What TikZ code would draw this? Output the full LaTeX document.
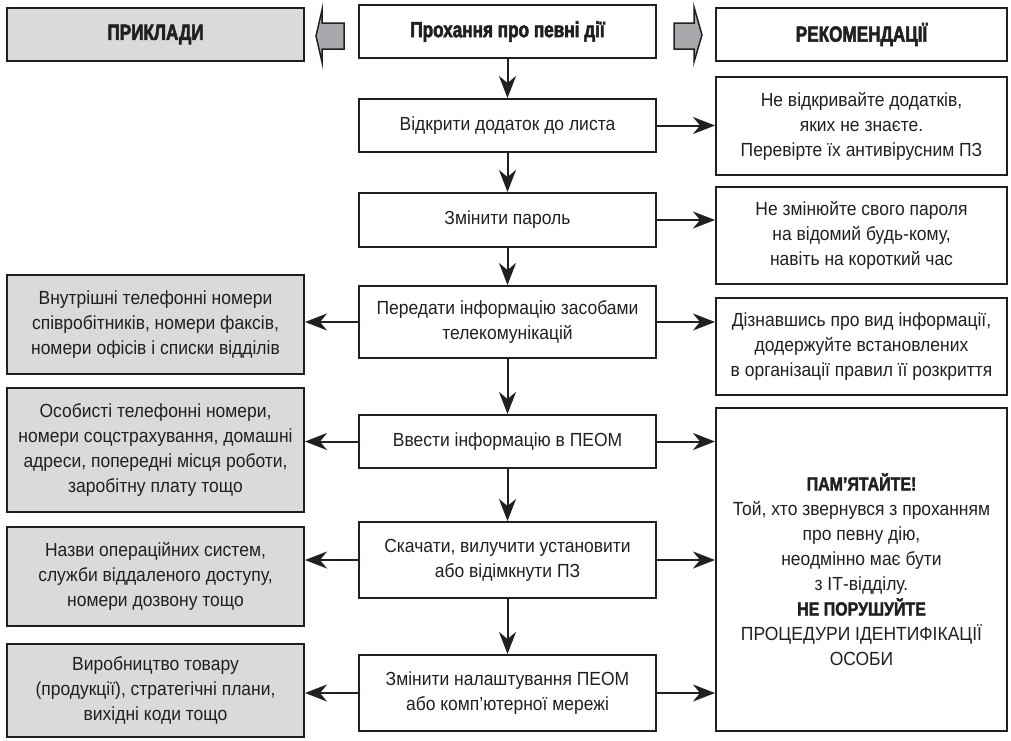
\documentclass[tikz,border=0pt]{standalone}
\usepackage{fontspec}
\setmainfont{Liberation Sans}[FakeStretch=0.92]
\newfontfamily\headfont{Liberation Sans}[FakeStretch=0.78,FakeBold=2.5]
\newfontfamily\notefont{Liberation Sans}[FakeStretch=0.84,FakeBold=2]
\usetikzlibrary{arrows.meta}
\definecolor{ink}{HTML}{231F20}
\definecolor{panel}{HTML}{D9DADB}
\definecolor{hollow}{HTML}{A7A9AC}
\tikzset{
  x=1pt, y=-1pt,
  box/.style={draw=ink, line width=2pt, align=center, inner sep=0pt,
    text=ink, font=\fontsize{19}{25}\selectfont},
  mid/.style={box, minimum width=297pt},
  side/.style={box, minimum width=297pt, fill=panel},
  adv/.style={box, minimum width=291pt},
  head/.style={font=\headfont\bfseries\fontsize{22}{24}\selectfont},
  arr/.style={draw=ink, line width=2pt, -{Stealth[length=22pt,width=17pt,inset=7pt]}},
  hollowarrow/.style={draw=ink, line width=1.5pt, fill=hollow, line join=miter}
}
\begin{document}
\begin{tikzpicture}
\useasboundingbox (0,0) rectangle (1011,740);

% header row
\node[side, head, minimum height=53pt] (hdL) at (155.5,34.5) {ПРИКЛАДИ};
\node[mid, head, minimum height=53pt] (hdC) at (507.5,31.5) {Прохання про певні дії};
\node[adv, head, minimum height=53pt] (hdR) at (861.5,34.5) {РЕКОМЕНДАЦІЇ};

% hollow direction arrows beside the central header
\draw[hollowarrow] (344,23) -- (322,23) -- (322,10) -- (316,36) -- (322,62)
  -- (322,49) -- (344,49) -- cycle;
\draw[hollowarrow] (674,23) -- (694,23) -- (694,7) -- (702,35) -- (694,62)
  -- (694,49) -- (674,49) -- cycle;

% central chain of requests
\node[mid, minimum height=53pt] (b1) at (507.5,125.5) {Відкрити додаток до листа};
\node[mid, minimum height=54pt] (b2) at (507.5,220) {Змінити пароль};
\node[mid, minimum height=72pt] (b3) at (507.5,322) {Передати інформацію засобами\\телекомунікацій};
\node[mid, minimum height=53pt] (b4) at (507.5,441.5) {Ввести інформацію в ПЕОМ};
\node[mid, minimum height=76pt] (b5) at (507.5,560) {Скачати, вилучити установити\\або відімкнути ПЗ};
\node[mid, minimum height=76pt] (b6) at (507.5,693) {Змінити налаштування ПЕОМ\\або комп’ютерної мережі};

% examples column
\node[side, minimum height=99pt] (g1) at (155.5,324.5) {Внутрішні телефонні номери\\співробітників, номери факсів,\\номери офісів і списки відділів};
\node[side, minimum height=124pt] (g2) at (155.5,450) {Особисті телефонні номери,\\номери соцстрахування, домашні\\адреси, попередні місця роботи,\\заробітну плату тощо};
\node[side, minimum height=99pt] (g3) at (155.5,576.5) {Назви операційних систем,\\служби віддаленого доступу,\\номери дозвону тощо};
\node[side, minimum height=93pt] (g4) at (155.5,690.5) {Виробництво товару\\(продукції), стратегічні плани,\\вихідні коди тощо};

% recommendations column
\node[adv, minimum height=98pt] (r1) at (861.5,126) {Не відкривайте додатків,\\яких не знаєте.\\Перевірте їх антивірусним ПЗ};
\node[adv, minimum height=97pt] (r2) at (861.5,235.5) {Не змінюйте свого пароля\\на відомий будь-кому,\\навіть на короткий час};
\node[adv, minimum height=97pt] (r3) at (861.5,346.5) {Дізнавшись про вид інформації,\\додержуйте встановлених\\в організації правил її розкриття};
\node[adv, minimum height=323pt] (r4) at (861.5,569.5) {{\notefont\bfseries\fontsize{19}{25}\selectfont ПАМ’ЯТАЙТЕ!}\\Той, хто звернувся з проханням\\про певну дію,\\неодмінно має бути\\з ІТ-відділу.\\{\notefont\bfseries\fontsize{19}{25}\selectfont НЕ ПОРУШУЙТЕ}\\ПРОЦЕДУРИ ІДЕНТИФІКАЦІЇ\\ОСОБИ};

% vertical flow
\draw[arr] (hdC) -- (b1);
\draw[arr] (b1) -- (b2);
\draw[arr] (b2) -- (b3);
\draw[arr] (b3) -- (b4);
\draw[arr] (b4) -- (b5);
\draw[arr] (b5) -- (b6);

% to the recommendations
\draw[arr] (b1.east) -- (b1.east -| r1.west);
\draw[arr] (b2.east) -- (b2.east -| r2.west);
\draw[arr] (b3.east) -- (b3.east -| r3.west);
\draw[arr] (b4.east) -- (b4.east -| r4.west);
\draw[arr] (b5.east) -- (b5.east -| r4.west);
\draw[arr] (b6.east) -- (b6.east -| r4.west);

% to the examples
\draw[arr] (b3.west) -- (b3.west -| g1.east);
\draw[arr] (b4.west) -- (b4.west -| g2.east);
\draw[arr] (b5.west) -- (b5.west -| g3.east);
\draw[arr] (b6.west) -- (b6.west -| g4.east);
\end{tikzpicture}
\end{document}
